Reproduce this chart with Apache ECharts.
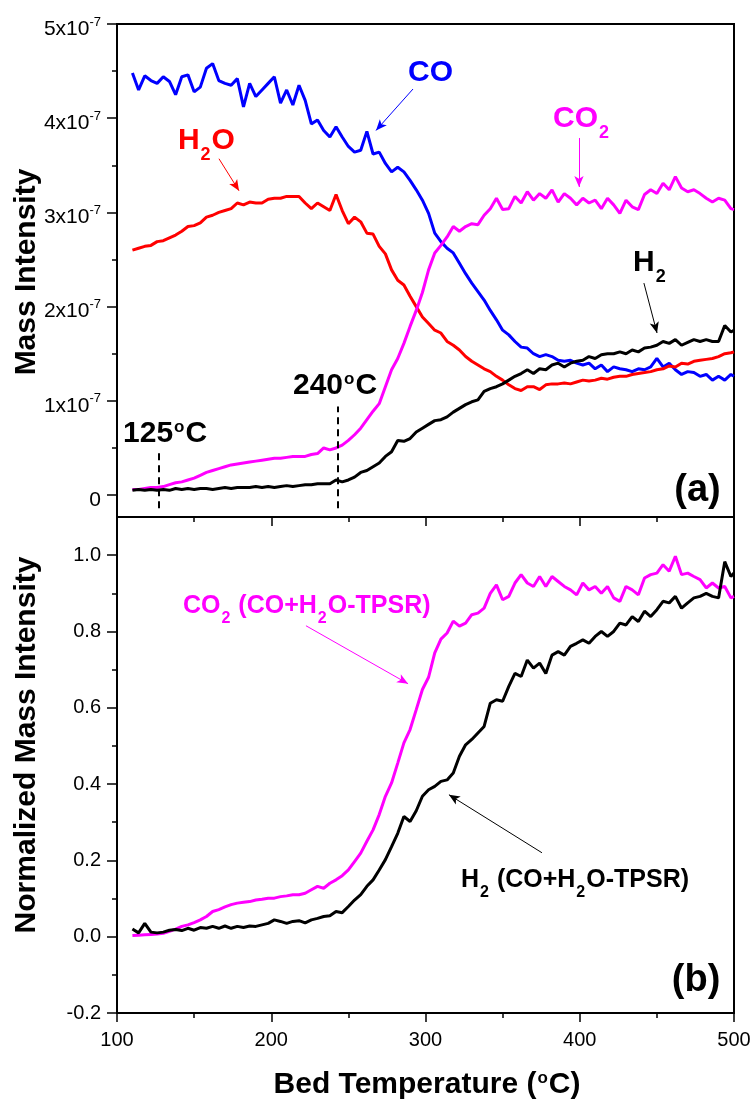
<!DOCTYPE html>
<html><head><meta charset="utf-8">
<script src="https://cdn.jsdelivr.net/npm/echarts@6/dist/echarts.min.js"></script>
<style>html,body{margin:0;padding:0;background:#fff}#c{width:755px;height:1103px}</style>
</head><body><div id="c"></div>
<script>
// Bed temperature (°C)
const temps = [110,114,118,122,126,130,134,138,142,146,150,154,158,162,166,170,174,178,182,186,190,194,198,202,206,210,214,218,222,226,230,234,238,242,246,250,254,258,262,266,270,274,278,282,286,290,294,298,302,306,310,314,318,322,326,330,334,338,342,346,350,354,358,362,366,370,374,378,382,386,390,394,398,402,406,410,414,418,422,426,430,434,438,442,446,450,454,458,462,466,470,474,478,482,486,490,494,498,500];
// Panel (a): mass intensity, units of 1e-7
const coTop = [4.48,4.30,4.45,4.40,4.37,4.44,4.39,4.25,4.44,4.46,4.28,4.33,4.53,4.58,4.40,4.37,4.35,4.42,4.12,4.37,4.23,4.30,4.37,4.44,4.16,4.30,4.14,4.35,4.19,3.94,3.98,3.87,3.80,3.91,3.80,3.70,3.64,3.66,3.86,3.62,3.64,3.52,3.43,3.48,3.43,3.34,3.24,3.13,2.99,2.78,2.69,2.62,2.57,2.46,2.35,2.25,2.16,2.07,1.96,1.86,1.75,1.70,1.63,1.57,1.56,1.50,1.47,1.49,1.47,1.43,1.42,1.43,1.40,1.38,1.40,1.34,1.38,1.31,1.36,1.34,1.33,1.31,1.34,1.33,1.36,1.45,1.36,1.40,1.33,1.28,1.31,1.30,1.26,1.28,1.22,1.26,1.22,1.28,1.26];
const h2oTop = [2.60,2.62,2.64,2.65,2.69,2.70,2.73,2.76,2.80,2.85,2.86,2.89,2.95,2.97,3.00,3.02,3.04,3.10,3.08,3.11,3.10,3.10,3.14,3.15,3.15,3.17,3.17,3.17,3.10,3.04,3.10,3.06,3.02,3.19,3.02,2.88,2.95,2.90,2.78,2.77,2.64,2.56,2.39,2.28,2.23,2.11,2.00,1.89,1.82,1.75,1.72,1.63,1.59,1.54,1.47,1.42,1.38,1.34,1.31,1.26,1.22,1.17,1.13,1.11,1.15,1.15,1.12,1.17,1.18,1.18,1.19,1.18,1.20,1.22,1.21,1.22,1.24,1.23,1.25,1.26,1.26,1.28,1.29,1.30,1.31,1.33,1.34,1.37,1.36,1.40,1.39,1.42,1.43,1.44,1.45,1.47,1.50,1.51,1.52];
const co2Top = [0.06,0.06,0.07,0.08,0.08,0.09,0.11,0.13,0.14,0.16,0.18,0.21,0.24,0.26,0.28,0.30,0.32,0.33,0.34,0.35,0.36,0.37,0.38,0.39,0.39,0.40,0.41,0.41,0.41,0.43,0.44,0.50,0.48,0.50,0.53,0.58,0.64,0.71,0.80,0.89,0.97,1.15,1.33,1.45,1.61,1.79,1.96,2.15,2.39,2.57,2.65,2.74,2.85,2.80,2.85,2.88,2.87,2.97,3.04,3.15,3.03,3.04,3.17,3.10,3.22,3.13,3.20,3.15,3.24,3.11,3.20,3.15,3.08,3.15,3.10,3.13,3.04,3.15,3.08,2.99,3.13,3.06,3.03,3.19,3.24,3.20,3.31,3.24,3.38,3.26,3.22,3.24,3.20,3.15,3.11,3.15,3.13,3.04,3.03];
const h2Top = [0.05,0.06,0.05,0.06,0.05,0.06,0.05,0.07,0.06,0.07,0.06,0.07,0.07,0.06,0.07,0.08,0.07,0.08,0.08,0.08,0.09,0.08,0.09,0.08,0.09,0.10,0.09,0.10,0.11,0.11,0.12,0.12,0.12,0.16,0.14,0.16,0.19,0.24,0.26,0.30,0.34,0.41,0.46,0.58,0.57,0.60,0.67,0.71,0.75,0.79,0.80,0.83,0.88,0.92,0.96,0.99,1.01,1.10,1.13,1.15,1.18,1.22,1.26,1.29,1.33,1.29,1.34,1.33,1.38,1.40,1.36,1.40,1.42,1.43,1.47,1.45,1.49,1.50,1.50,1.52,1.50,1.54,1.52,1.56,1.57,1.59,1.63,1.61,1.65,1.59,1.62,1.65,1.63,1.65,1.63,1.63,1.80,1.73,1.75];
// Panel (b): normalized mass intensity
const co2Norm = [0.003,0.004,0.005,0.006,0.007,0.009,0.014,0.020,0.027,0.031,0.037,0.044,0.053,0.066,0.071,0.078,0.084,0.088,0.090,0.092,0.096,0.098,0.101,0.101,0.105,0.107,0.110,0.110,0.114,0.123,0.132,0.127,0.140,0.149,0.160,0.175,0.197,0.219,0.250,0.280,0.320,0.368,0.403,0.455,0.508,0.543,0.595,0.648,0.680,0.744,0.780,0.796,0.827,0.814,0.822,0.844,0.848,0.861,0.900,0.922,0.883,0.892,0.927,0.949,0.927,0.918,0.944,0.918,0.944,0.931,0.918,0.909,0.896,0.927,0.909,0.918,0.900,0.918,0.888,0.879,0.918,0.909,0.896,0.940,0.949,0.953,0.975,0.958,0.997,0.949,0.953,0.944,0.936,0.914,0.927,0.914,0.918,0.888,0.892];
const h2Norm = [0.020,0.010,0.035,0.012,0.010,0.012,0.017,0.019,0.016,0.022,0.017,0.024,0.022,0.027,0.022,0.028,0.022,0.027,0.024,0.028,0.027,0.031,0.035,0.044,0.040,0.035,0.040,0.042,0.036,0.044,0.048,0.053,0.055,0.066,0.063,0.079,0.096,0.110,0.132,0.149,0.175,0.202,0.236,0.271,0.315,0.302,0.330,0.368,0.385,0.394,0.407,0.411,0.429,0.473,0.503,0.517,0.534,0.551,0.612,0.621,0.617,0.656,0.690,0.682,0.725,0.704,0.717,0.690,0.738,0.747,0.738,0.761,0.769,0.778,0.769,0.787,0.800,0.787,0.800,0.822,0.817,0.839,0.826,0.853,0.839,0.857,0.879,0.875,0.892,0.861,0.875,0.888,0.892,0.900,0.892,0.888,0.983,0.944,0.953];
// Tick values
const topTicks = [0,1,2,3,4,5];
const topMinor = [0.5,1.5,2.5,3.5,4.5];
const botTicks = [-0.2,0,0.2,0.4,0.6,0.8,1.0];
const botMinor = [-0.1,0.1,0.3,0.5,0.7,0.9];
const markTemps = [127.2, 243.2];

const F = '"Liberation Sans", Arial, sans-serif';
const BLUE = '#0000ff', RED = '#ff0000', MAG = '#ff00ff', BLK = '#000000';
const pair = ys => temps.map((t, i) => [t, ys[i]]);

const chart = echarts.init(document.getElementById('c'), null, {renderer: 'canvas'});

function arrow(color, a, b) {
  return [{coord: a, symbol: 'none'}, {coord: b, symbol: 'arrow'}];
}
function mlArrows(color, list) {
  return {
    silent: true, animation: false, symbol: ['none', 'arrow'], symbolSize: [7, 11],
    label: {show: false}, emphasis: {disabled: true},
    lineStyle: {color: color, width: 1, type: 'solid'},
    data: list.map(p => arrow(color, p[0], p[1]))
  };
}
function line(name, data, color, gi, ml) {
  const s = {
    name: name, type: 'line', xAxisIndex: gi, yAxisIndex: gi * 2, data: pair(data),
    showSymbol: false, symbol: 'none', silent: true, animation: false,
    lineStyle: {color: color, width: 3}, itemStyle: {color: color}, z: 3
  };
  if (ml) s.markLine = ml;
  return s;
}

const axisLineStyle = {show: true, onZero: false, lineStyle: {color: '#000', width: 2}};
function xAxis(gi, showLabels) {
  return {
    gridIndex: gi, type: 'value', min: 100, max: 500, interval: 100, position: 'bottom',
    axisLine: axisLineStyle,
    axisTick: {show: true, inside: false, length: 9, lineStyle: {color: '#000', width: 1.5}},
    minorTick: {show: true, splitNumber: 2, length: 5, lineStyle: {color: '#000', width: 1.5}},
    axisLabel: {show: showLabels, fontFamily: F, fontSize: 20, color: '#000', margin: 17},
    splitLine: {show: false}, minorSplitLine: {show: false}
  };
}
const topRich = {
  b: {fontFamily: F, fontSize: 21, color: '#000', lineHeight: 21, verticalAlign: 'top', padding: [5, 0, 5, 0]},
  s: {fontFamily: F, fontSize: 13, color: '#000', lineHeight: 13, verticalAlign: 'top', padding: [2, 0, 0, 0]},
  z: {fontFamily: F, fontSize: 21, color: '#000', lineHeight: 21, verticalAlign: 'top', padding: [5, 0, 5, 0]}
};
const yAxes = [
  { gridIndex: 0, type: 'value', min: -0.233, max: 5, position: 'left',
    axisLine: axisLineStyle,
    axisTick: {show: true, length: 10, customValues: topTicks, lineStyle: {color: '#000', width: 1.5}},
    axisLabel: {customValues: topTicks, margin: 16, formatter: v => v === 0 ? '{z|0}' : '{b|' + v + 'x10}{s|-7}', rich: topRich},
    splitLine: {show: false} },
  { gridIndex: 0, type: 'value', min: -0.233, max: 5, position: 'left',
    axisLine: {show: false},
    axisTick: {show: true, length: 5, customValues: topMinor, lineStyle: {color: '#000', width: 1.5}},
    axisLabel: {show: false}, splitLine: {show: false} },
  { gridIndex: 1, type: 'value', min: -0.2, max: 1.1, position: 'left',
    axisLine: axisLineStyle,
    axisTick: {show: true, length: 10, customValues: botTicks, lineStyle: {color: '#000', width: 1.5}},
    axisLabel: {customValues: botTicks, margin: 16, fontFamily: F, fontSize: 20, color: '#000', formatter: v => v.toFixed(1)},
    splitLine: {show: false} },
  { gridIndex: 1, type: 'value', min: -0.2, max: 1.1, position: 'left',
    axisLine: {show: false},
    axisTick: {show: true, length: 5, customValues: botMinor, lineStyle: {color: '#000', width: 1.5}},
    axisLabel: {show: false}, splitLine: {show: false} }
];

const dashML = {
  silent: true, animation: false, symbol: ['none', 'none'], label: {show: false}, emphasis: {disabled: true},
  lineStyle: {color: '#000', width: 2, type: [7, 5]},
  data: [
    [{coord: [markTemps[0], -0.14]}, {coord: [markTemps[0], 0.45]}],
    [{coord: [markTemps[1], -0.14]}, {coord: [markTemps[1], 0.94]}]
  ]
};

const option = {
  backgroundColor: '#ffffff',
  animation: false,
  grid: [
    {left: 117, top: 24, width: 617, height: 493, show: true, borderColor: '#000', borderWidth: 2, backgroundColor: 'transparent'},
    {left: 117, top: 517, width: 617, height: 496, show: true, borderColor: '#000', borderWidth: 2, backgroundColor: 'transparent'}
  ],
  xAxis: [xAxis(0, false), xAxis(1, true)],
  yAxis: yAxes,
  series: [
    line('CO', coTop, BLUE, 0, mlArrows(BLUE, [[[291.9, 4.31], [267.9, 3.87]]])),
    line('H2O', h2oTop, RED, 0, mlArrows(RED, [[[166.1, 3.57], [179.1, 3.23]]])),
    line('CO2', co2Top, MAG, 0, mlArrows(MAG, [[[399.5, 3.79], [399.5, 3.27]]])),
    line('H2', h2Top, BLK, 0, mlArrows(BLK, [[[441.6, 2.25], [450.1, 1.72]]])),
    Object.assign(line('dash', [], BLK, 0), {data: [], markLine: dashML}),
    line('CO2 norm', co2Norm, MAG, 1, mlArrows(MAG, [[[222.5, 0.815], [288.7, 0.663]]])),
    line('H2 norm', h2Norm, BLK, 1, mlArrows(BLK, [[[375.5, 0.220], [315.2, 0.372]]]))
  ]
};
chart.setOption(option);

// Text annotations
function bigRich(color, fs, subFs, subPad) {
  return {
    m: {fill: color, color: color, fontFamily: F, fontWeight: 'bold', fontSize: fs, lineHeight: fs, verticalAlign: 'top'},
    s: {fill: color, color: color, fontFamily: F, fontWeight: 'bold', fontSize: subFs, lineHeight: subFs, verticalAlign: 'top', padding: [subPad, 1, 0, 1]},
    o: {fill: color, color: color, fontFamily: F, fontWeight: 'bold', fontSize: Math.round(fs * 0.55), lineHeight: Math.round(fs * 0.55), verticalAlign: 'top', padding: [0, 1, 0, 1]}
  };
}
const annots = [
  {g: 0, at: [288.7, 4.64], text: '{m|CO}', color: BLUE, fs: 30},
  {g: 0, at: [382.7, 4.15], text: '{m|CO}{s|2}', color: MAG, fs: 30},
  {g: 0, at: [139.5, 3.92], text: '{m|H}{s|2}{m|O}', color: RED, fs: 30},
  {g: 0, at: [434.5, 2.62], text: '{m|H}{s|2}', color: BLK, fs: 30},
  {g: 0, at: [103.9, 0.81], text: '{m|125}{o|o}{m|C}', color: BLK, fs: 30},
  {g: 0, at: [214.1, 1.32], text: '{m|240}{o|o}{m|C}', color: BLK, fs: 30},
  {g: 1, at: [142.8, 0.899], text: '{m|CO}{s|2}{m| (CO+H}{s|2}{m|O-TPSR)}', color: MAG, fs: 25},
  {g: 1, at: [323.0, 0.181], text: '{m|H}{s|2}{m| (CO+H}{s|2}{m|O-TPSR)}', color: BLK, fs: 25}
];
const graphics = annots.map(a => {
  const p = chart.convertToPixel({gridIndex: a.g}, a.at);
  const subFs = a.fs === 30 ? 18 : 16;
  const subPad = a.fs === 30 ? 20 : 17;
  return {type: 'text', x: p[0], y: p[1], silent: true, z: 10,
    style: {text: a.text, rich: bigRich(a.color, a.fs, subFs, subPad), align: 'left', verticalAlign: 'top'}};
});
[[0, [476.3, 0.053], '(a)'], [1, [475.4, -0.115], '(b)']].forEach(d => {
  const p = chart.convertToPixel({gridIndex: d[0]}, d[1]);
  graphics.push({type: 'text', x: p[0], y: p[1], silent: true, z: 10,
    style: {text: d[2], fill: '#000', fontFamily: F, fontWeight: 'bold', fontSize: 38, align: 'center', verticalAlign: 'middle'}});
});
// axis titles
graphics.push({type: 'text', x: 27, y: 272, rotation: Math.PI / 2, silent: true,
  style: {text: 'Mass Intensity', fill: '#000', fontFamily: F, fontWeight: 'bold', fontSize: 30, align: 'center', verticalAlign: 'middle'}});
graphics.push({type: 'text', x: 27, y: 745, rotation: Math.PI / 2, silent: true,
  style: {text: 'Normalized Mass Intensity', fill: '#000', fontFamily: F, fontWeight: 'bold', fontSize: 30, align: 'center', verticalAlign: 'middle'}});
graphics.push({type: 'text', x: 427, y: 1070, silent: true,
  style: {text: '{m|Bed Temperature (}{o|o}{m|C)}', rich: bigRich('#000', 30, 18, 20), align: 'center', verticalAlign: 'top'}});
chart.setOption({graphic: graphics});
</script>
</body></html>
